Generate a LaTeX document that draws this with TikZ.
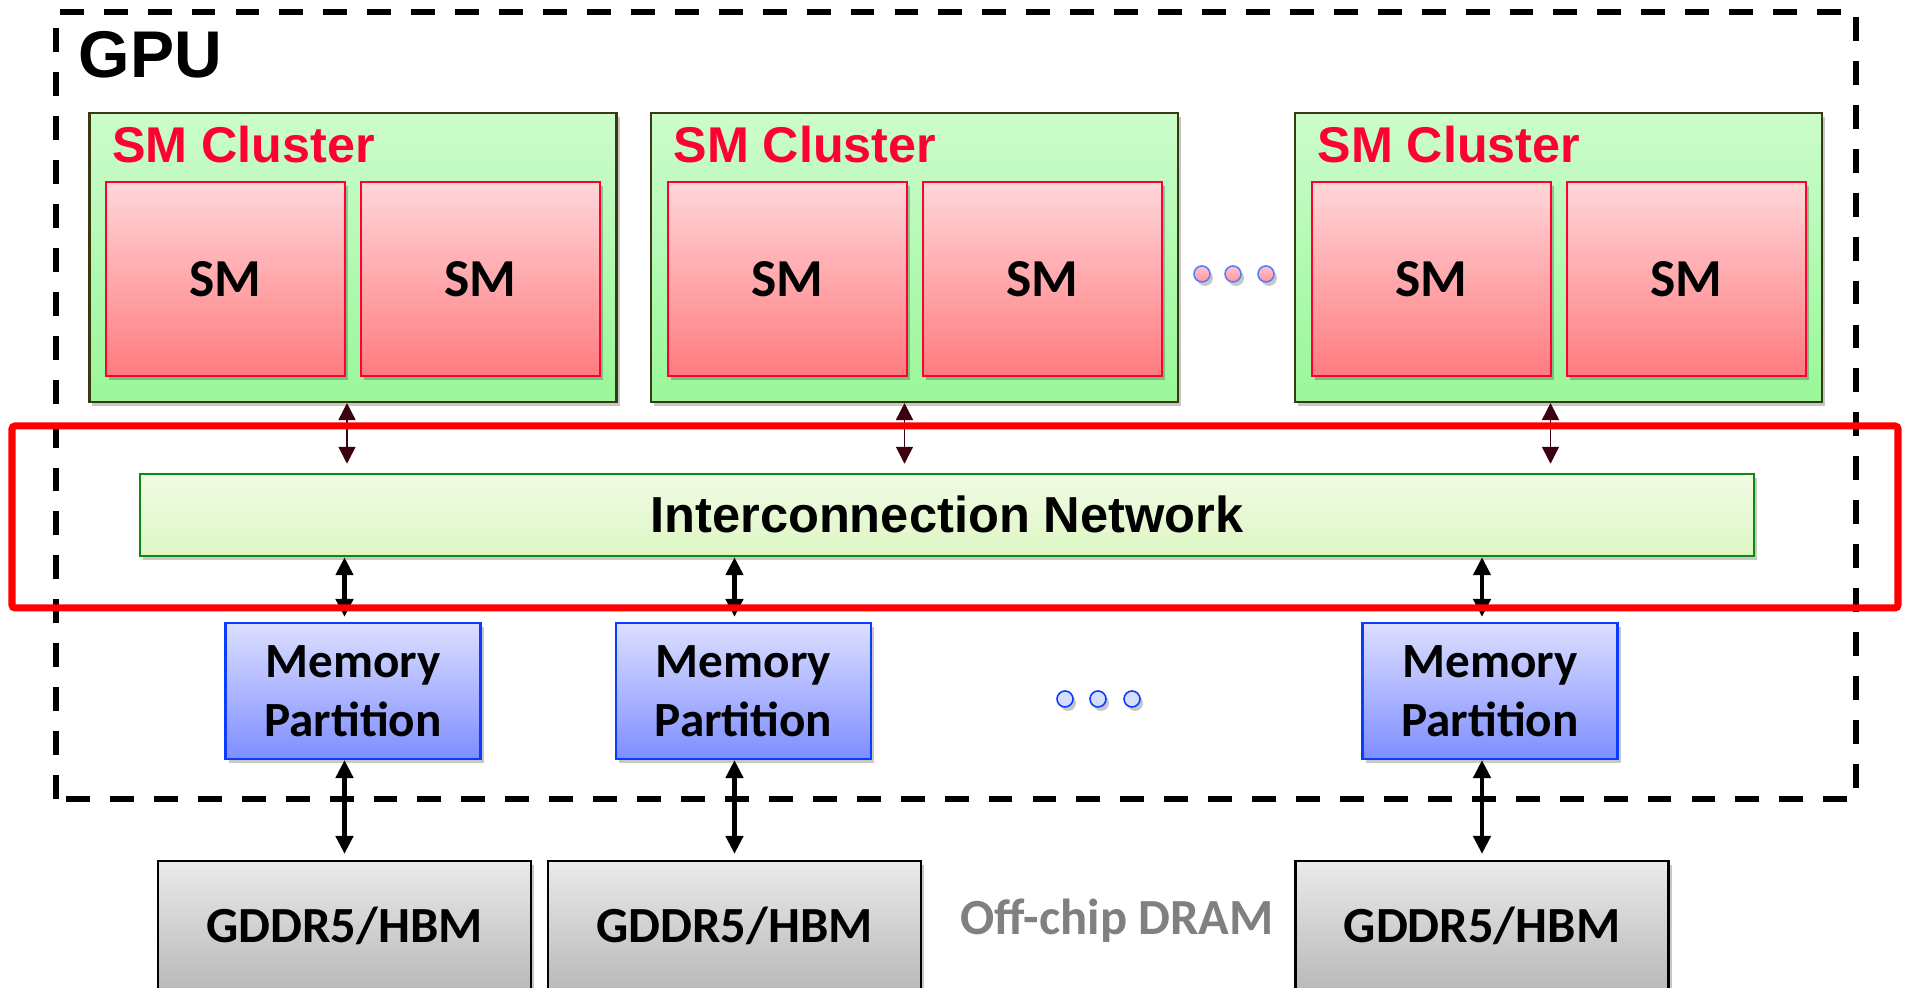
\documentclass[tikz,border=0pt]{standalone}
\usepackage{fontspec}
\setmainfont{Carlito}
\newfontfamily\arialfont{Liberation Sans}
\usepackage{tikz}
\usetikzlibrary{arrows.meta,positioning,shadows}

\definecolor{clusterline}{HTML}{3A3A10}
\definecolor{labelred}{HTML}{FF0033}
\definecolor{linkred}{HTML}{3C0010}
\definecolor{netline}{HTML}{118811}
\definecolor{mpline}{HTML}{0A3CFF}
\definecolor{dotline}{HTML}{5A7AFF}

\begin{document}
\begin{tikzpicture}[
  boxshadow/.style={drop shadow={shadow xshift=0.03cm, shadow yshift=-0.04cm, opacity=0.22, fill=black}},
  cluster/.style={draw=clusterline, line width=0.6pt, top color={rgb,255:red,204;green,252;blue,204},
    bottom color={rgb,255:red,153;green,247;blue,153}, minimum width=5.27cm, minimum height=2.89cm,
    inner sep=0pt, boxshadow},
  clusterlabel/.style={font=\arialfont\bfseries\fontsize{14.3}{17}\selectfont, text=labelred, inner sep=0pt},
  smbox/.style={draw=labelred, line width=0.6pt, top color={rgb,255:red,255;green,214;blue,217},
    bottom color={rgb,255:red,255;green,123;blue,127}, minimum width=2.39cm, minimum height=1.94cm,
    inner sep=0pt, text height=0.35cm, text depth=0cm, font=\bfseries\fontsize{15.2}{18}\selectfont, boxshadow},
  netbox/.style={draw=netline, line width=0.7pt, top color={rgb,255:red,242;green,251;blue,230},
    bottom color={rgb,255:red,220;green,247;blue,194}, minimum width=16.14cm, minimum height=0.82cm,
    inner sep=0pt, text height=0.36cm, text depth=0cm, font=\arialfont\bfseries\fontsize{14.4}{17}\selectfont, boxshadow},
  mpbox/.style={draw=mpline, line width=0.6pt, top color={rgb,255:red,220;green,223;blue,255},
    bottom color={rgb,255:red,126;green,142;blue,255}, minimum width=2.55cm, minimum height=1.36cm,
    inner sep=0pt, align=center, font=\bfseries\fontsize{14}{16.8}\selectfont, boxshadow},
  dram/.style={draw=black, line width=0.6pt, top color={rgb,255:red,234;green,234;blue,234},
    bottom color={rgb,255:red,184;green,184;blue,184}, minimum width=3.73cm, minimum height=1.32cm,
    inner sep=0pt, text height=0.32cm, text depth=0cm, font=\bfseries\fontsize{14.4}{17}\selectfont, boxshadow},
  smdot/.style={circle, draw=dotline, line width=0.45pt, top color={rgb,255:red,255;green,196;blue,200},
    bottom color={rgb,255:red,255;green,150;blue,156}, minimum size=0.16cm, inner sep=0pt, boxshadow},
  mpdot/.style={circle, draw=mpline, line width=0.45pt, fill={rgb,255:red,214;green,222;blue,255},
    minimum size=0.16cm, inner sep=0pt, boxshadow},
  smlink/.style={{Triangle[length=0.17cm,width=0.17cm]}-{Triangle[length=0.17cm,width=0.17cm]},
    draw=linkred, line width=0.45pt, shorten >=0.09cm},
  memlink/.style={{Triangle[length=0.18cm,width=0.17cm]}-{Triangle[length=0.18cm,width=0.17cm]},
    draw=black, line width=1.3pt}
]
\useasboundingbox (0,0) rectangle (19.07,9.88);
\clip (0,0) rectangle (19.07,9.88);

% GPU chip outline
\draw[black, line width=1.6pt, dash pattern=on 6.8pt off 5.7pt] (0.56,1.89) rectangle (18.56,9.76);
\node[font=\arialfont\bfseries\fontsize{18.8}{22}\selectfont, anchor=base west, inner sep=0pt] (gpu) at (0.78,9.10) {GPU};

% SM clusters
\node[cluster] (cl1) at (3.53,7.305) {};
\node[clusterlabel, anchor=base west] (cl1lab) at ([shift={(0.23,-0.51)}]cl1.north west) {SM Cluster};
\node[smbox] (sm11) at (2.255,7.09) {SM};
\node[smbox] (sm12) at (4.805,7.09) {SM};

\node[cluster] (cl2) at (9.145,7.305) {};
\node[clusterlabel, anchor=base west] (cl2lab) at ([shift={(0.23,-0.51)}]cl2.north west) {SM Cluster};
\node[smbox] (sm21) at (7.875,7.09) {SM};
\node[smbox] (sm22) at (10.425,7.09) {SM};

\node[smdot] (smd1) at (12.02,7.14) {};
\node[smdot] (smd2) at (12.33,7.14) {};
\node[smdot] (smd3) at (12.66,7.14) {};

\node[cluster] (cl3) at (15.585,7.305) {};
\node[clusterlabel, anchor=base west] (cl3lab) at ([shift={(0.23,-0.51)}]cl3.north west) {SM Cluster};
\node[smbox] (sm31) at (14.315,7.09) {SM};
\node[smbox] (sm32) at (16.865,7.09) {SM};

% interconnect
\node[netbox] (net) at (9.47,4.73) {Interconnection Network};

\draw[smlink] ([xshift=-0.06cm]cl1.south) -- ([xshift=-0.06cm]cl1.south |- net.north);
\draw[smlink] ([xshift=-0.10cm]cl2.south) -- ([xshift=-0.10cm]cl2.south |- net.north);
\draw[smlink] ([xshift=-0.08cm]cl3.south) -- ([xshift=-0.08cm]cl3.south |- net.north);

% memory partitions and DRAM
\node[mpbox] (mp1) at (3.53,2.97) {Memory\\Partition};
\node[mpbox] (mp2) at (7.435,2.97) {Memory\\Partition};
\node[mpbox] (mp3) at (14.90,2.97) {Memory\\Partition};

\node[mpdot] (mpd1) at (10.65,2.89) {};
\node[mpdot] (mpd2) at (10.98,2.89) {};
\node[mpdot] (mpd3) at (11.32,2.89) {};

\node[dram] (dr1) at (3.445,0.61) {GDDR5/HBM};
\node[dram] (dr2) at (7.345,0.61) {GDDR5/HBM};
\node[dram] (dr3) at (14.82,0.61) {GDDR5/HBM};
\node[font=\bfseries\fontsize{14.4}{17}\selectfont, text=black!50, anchor=base, inner sep=0pt] (offchip) at (11.17,0.53) {Off-chip DRAM};

\draw[memlink, shorten >=0.05cm] (dr1.north |- net.south) -- (dr1.north |- mp1.north);
\draw[memlink, shorten >=0.05cm] (dr2.north |- net.south) -- (dr2.north |- mp2.north);
\draw[memlink, shorten >=0.05cm] (dr3.north |- net.south) -- (dr3.north |- mp3.north);
\draw[memlink, shorten >=0.06cm] (dr1.north |- mp1.south) -- (dr1.north);
\draw[memlink, shorten >=0.06cm] (dr2.north |- mp2.south) -- (dr2.north);
\draw[memlink, shorten >=0.06cm] (dr3.north |- mp3.south) -- (dr3.north);

% highlighted interconnect region
\draw[red, line width=2pt, rounded corners=0.03cm] (0.12,3.80) rectangle (18.98,5.62);
\end{tikzpicture}
\end{document}
